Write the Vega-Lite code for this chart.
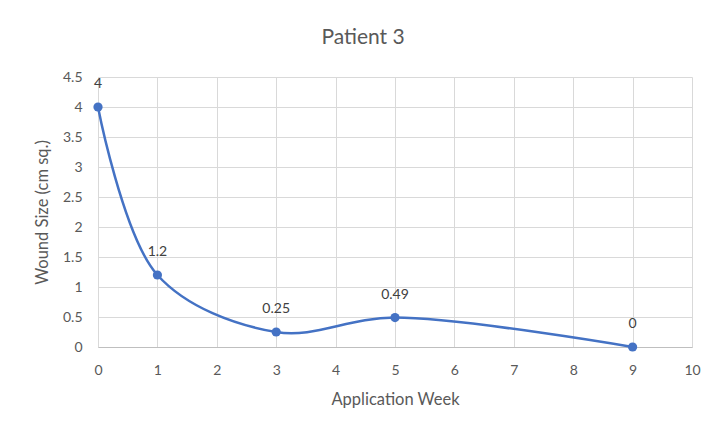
{
  "$schema": "https://vega.github.io/schema/vega-lite/v6.json",
  "width": 594,
  "height": 270,
  "autosize": "none",
  "padding": {"left": 98, "top": 77, "right": 34, "bottom": 93},
  "background": "white",
  "title": {
    "text": "Patient 3",
    "font": "Lato",
    "fontSize": 21,
    "fontWeight": "normal",
    "color": "#595959",
    "anchor": "middle",
    "dx": -32,
    "offset": 22
  },
  "config": {
    "view": {"stroke": null},
    "font": "Lato"
  },
  "data": {
    "values": [
      {"week": 0, "size": 4, "label": "4"},
      {"week": 1, "size": 1.2, "label": "1.2"},
      {"week": 3, "size": 0.25, "label": "0.25"},
      {"week": 5, "size": 0.49, "label": "0.49"},
      {"week": 9, "size": 0, "label": "0"}
    ]
  },
  "encoding": {
    "x": {
      "field": "week",
      "type": "quantitative",
      "scale": {"domain": [0, 10], "nice": false},
      "axis": {
        "title": "Application Week",
        "titleFont": "Lato",
        "titleFontSize": 16.5,
        "titleFontWeight": "normal",
        "titleColor": "#595959",
        "titlePadding": 14,
        "values": [0, 1, 2, 3, 4, 5, 6, 7, 8, 9, 10],
        "labelFont": "Lato",
        "labelFontSize": 14,
        "labelColor": "#595959",
        "labelPadding": 16,
        "labelFlush": false,
        "ticks": false,
        "domainColor": "#bfbfbf",
        "domainWidth": 1,
        "grid": true,
        "gridColor": "#d9d9d9",
        "gridWidth": 1
      }
    },
    "y": {
      "field": "size",
      "type": "quantitative",
      "scale": {"domain": [0, 4.5], "nice": false},
      "axis": {
        "title": "Wound Size (cm sq.)",
        "titleFont": "Lato",
        "titleFontSize": 16.5,
        "titleFontWeight": "normal",
        "titleColor": "#595959",
        "titlePadding": 12,
        "values": [0, 0.5, 1, 1.5, 2, 2.5, 3, 3.5, 4, 4.5],
        "format": "~g",
        "labelFont": "Lato",
        "labelFontSize": 14,
        "labelColor": "#595959",
        "labelPadding": 16,
        "ticks": false,
        "domain": false,
        "grid": true,
        "gridColor": "#d9d9d9",
        "gridWidth": 1
      }
    }
  },
  "layer": [
    {
      "mark": {"type": "line", "interpolate": "catmull-rom", "color": "#4472C4", "strokeWidth": 2.5, "clip": false}
    },
    {
      "mark": {"type": "point", "filled": true, "color": "#4472C4", "size": 85, "opacity": 1, "clip": false}
    },
    {
      "mark": {"type": "text", "dy": -23, "baseline": "middle", "align": "center", "font": "Lato", "fontSize": 14, "color": "#404040", "clip": false},
      "encoding": {"text": {"field": "label", "type": "nominal"}}
    }
  ]
}
